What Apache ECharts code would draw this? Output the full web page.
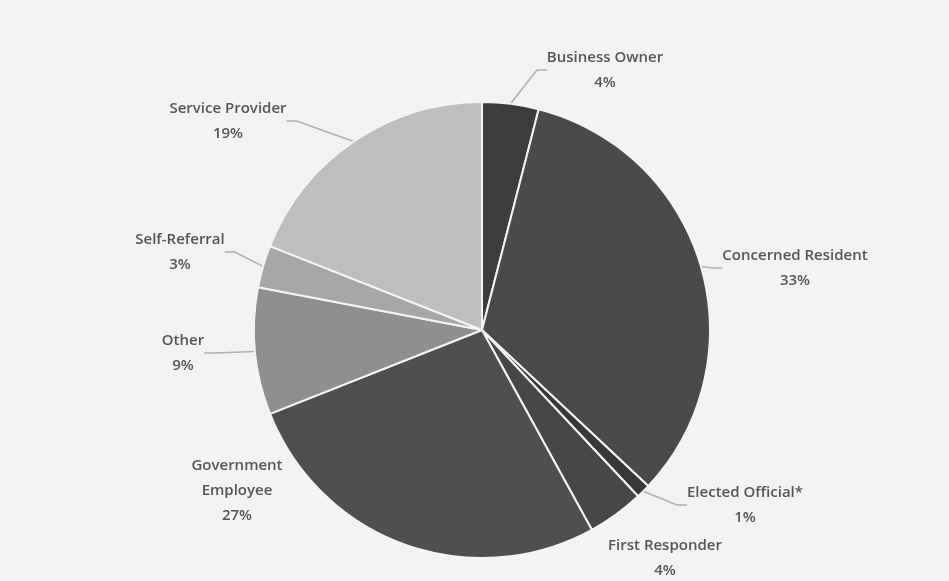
<!DOCTYPE html>
<html>
<head>
<meta charset="utf-8">
<script src="https://cdn.jsdelivr.net/npm/echarts@6/dist/echarts.min.js"></script>
<style>
html,body{margin:0;padding:0;background:#f3f3f3;}
#chart{width:949px;height:581px;}
</style>
</head>
<body>
<div id="chart"></div>
<script>
var categories = ['Business Owner','Concerned Resident','Elected Official*','First Responder','Government\nEmployee','Other','Self-Referral','Service Provider'];
var values = [4, 33, 1, 4, 27, 9, 3, 19];
var sliceColors = ['#3c3c3c','#4a4a4a','#383838','#474747','#4f4f4f','#8f8f8f','#a7a7a7','#bebebe'];
var labelSpots = [[605,70],[795,268],[745,505],[665,558],[237,491],[183,353],[180,252],[228,121]];
var showGuide = [true,true,true,false,false,true,true,true];

var chart = echarts.init(document.getElementById('chart'));
var data = categories.map(function(c,i){
  return {name:c, value:values[i], itemStyle:{color:sliceColors[i]}, labelLine:{show:showGuide[i]}};
});
chart.setOption({
  backgroundColor:'#f3f3f3',
  animation:false,
  series:[{
    type:'pie',
    center:[482,330],
    radius:228,
    startAngle:90,
    clockwise:true,
    data:data,
    itemStyle:{borderColor:'#f4f4f4',borderWidth:2},
    label:{
      show:true,
      position:'outside',
      formatter:function(p){return p.name+'\n'+p.value+'%';},
      fontFamily:'Open Sans',
      fontSize:15,
      fontWeight:600,
      color:'#555555',
      lineHeight:25,
      align:'center'
    },
    labelLine:{show:true,length:10,length2:10,lineStyle:{color:'#b0b0b0',width:1.5}},
    labelLayout:function(p){
      var s = labelSpots[p.dataIndex];
      return {x:s[0], y:s[1], align:'center', verticalAlign:'middle'};
    }
  }]
});
</script>
</body>
</html>
